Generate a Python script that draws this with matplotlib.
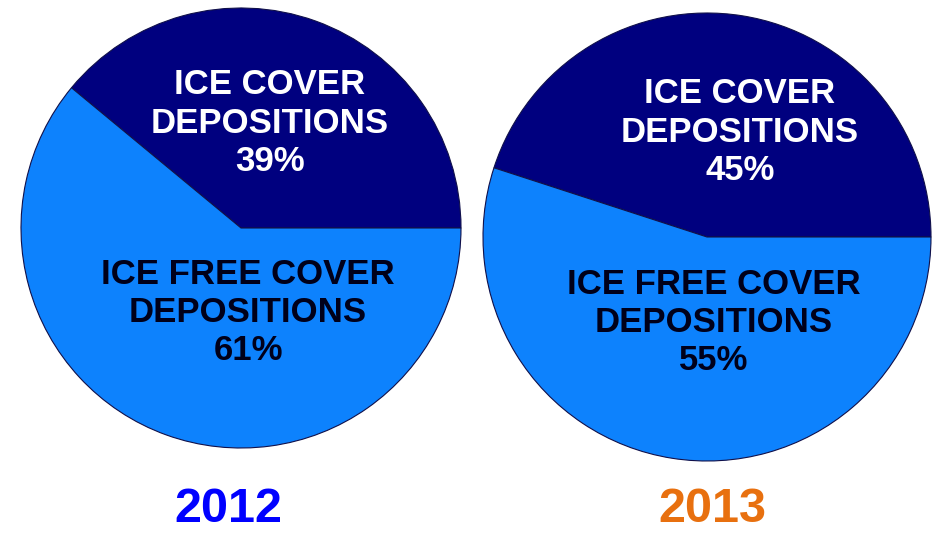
import matplotlib
matplotlib.use("Agg")
import matplotlib.pyplot as plt

years = ["2012", "2013"]
ice_cover = [39, 45]
ice_free = [61, 55]
year_colors = ["#0000ff", "#e8700f"]

dark = "#00007f"
light = "#0d82fd"
font = ["Liberation Sans", "DejaVu Sans"]

W, H = 932, 533
fig = plt.figure(figsize=(W / 100, H / 100), dpi=100)

# pie centre (px, from top-left) and radius in pixels
pies = [((241, 228), 220), ((707, 237), 224)]
label_pos = [((0.132, 0.477), (0.032, -0.384)), ((0.147, 0.468), (0.031, -0.382))]
year_x = [228, 712]

for i, ((cx, cy), r) in enumerate(pies):
    ax = fig.add_axes([(cx - r) / W, (H - cy - r) / H, 2 * r / W, 2 * r / H])
    ax.pie([ice_cover[i], ice_free[i]], startangle=0, counterclock=True,
           colors=[dark, light],
           wedgeprops=dict(edgecolor="#10104a", linewidth=0.8))
    ax.set_xlim(-1.0, 1.0)
    ax.set_ylim(-1.0, 1.0)
    ax.set_aspect("equal")
    ax.axis("off")
    (dx, dy), (lx, ly) = label_pos[i]
    ax.text(dx, dy, f"ICE COVER\nDEPOSITIONS\n{ice_cover[i]}%",
            ha="center", va="center", multialignment="center",
            color="white", fontsize=25, fontweight="bold", family=font,
            linespacing=1.2)
    ax.text(lx, ly, f"ICE FREE COVER\nDEPOSITIONS\n{ice_free[i]}%",
            ha="center", va="center", multialignment="center",
            color="#00001a", fontsize=25, fontweight="bold", family=font,
            linespacing=1.2)
    fig.text(year_x[i] / W, 1 / H, years[i], ha="center", va="bottom",
             color=year_colors[i], fontsize=35, fontweight="bold", family=font)

fig.savefig("out.png", dpi=100, facecolor="white")
